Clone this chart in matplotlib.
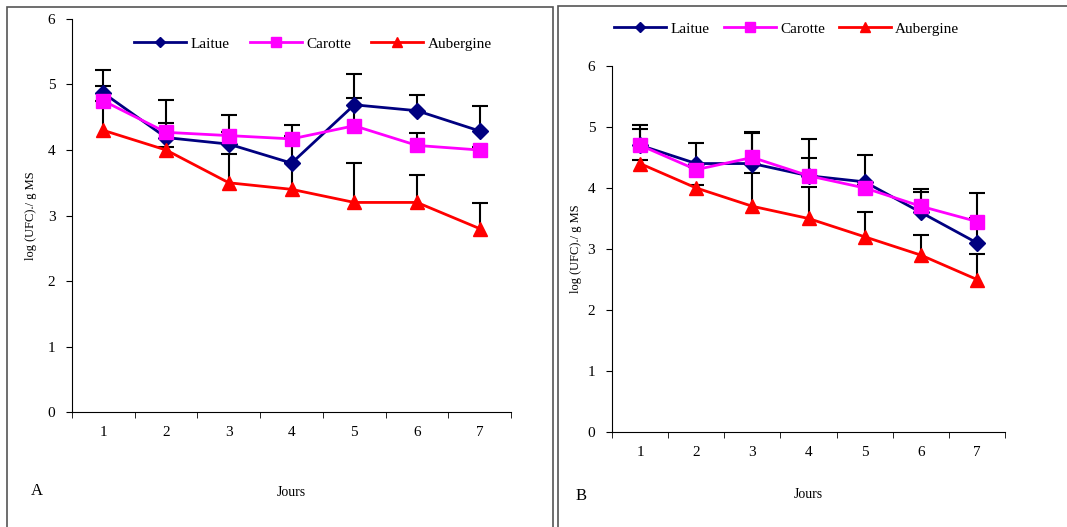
import matplotlib.pyplot as plt
from matplotlib.patches import Rectangle

plt.rcParams['font.family'] = ['Liberation Serif', 'DejaVu Serif']

# Data
jours = [1, 2, 3, 4, 5, 6, 7]
series = ['Laitue', 'Carotte', 'Aubergine']

a_laitue = [4.87, 4.19, 4.09, 3.80, 4.69, 4.60, 4.29]
a_carotte = [4.75, 4.27, 4.22, 4.17, 4.37, 4.07, 4.00]
a_aubergine = [4.30, 4.00, 3.50, 3.40, 3.20, 3.20, 2.80]
a_err_laitue = [0.35, 0.22, 0.45, 0.58, 0.47, 0.24, 0.38]
a_err_carotte = [0.23, 0.50, 0.05, 0.05, 0.43, 0.19, 0.05]
a_err_aubergine = [0.45, 0.05, 0.44, 0.40, 0.60, 0.42, 0.39]

b_laitue = [4.70, 4.40, 4.40, 4.20, 4.10, 3.60, 3.10]
b_carotte = [4.70, 4.30, 4.50, 4.20, 4.00, 3.70, 3.45]
b_aubergine = [4.40, 4.00, 3.70, 3.50, 3.20, 2.90, 2.50]
b_err_laitue = [0.33, 0.33, 0.52, 0.61, 0.44, 0.39, 0.82]
b_err_carotte = [0.27, 0.05, 0.40, 0.29, 0.05, 0.24, 0.05]
b_err_aubergine = [0.05, 0.05, 0.54, 0.52, 0.40, 0.33, 0.42]

colors = ['#000080', '#FF00FF', '#FF0000']
markers = ['D', 's', '^']
msizes = [8, 10, 10]

fig = plt.figure(figsize=(10.67, 5.27), dpi=100)

# panel frames
fig.patches.append(Rectangle((7 / 1067, -0.1), 546 / 1067, 1 - 7 / 527 + 0.1,
                             transform=fig.transFigure, fill=False,
                             edgecolor='#555555', lw=1.2))
fig.patches.append(Rectangle((558 / 1067, -0.1), 520 / 1067, 1 - 6 / 527 + 0.1,
                             transform=fig.transFigure, fill=False,
                             edgecolor='#555555', lw=1.2))


def draw_panel(ax, values, errors, legend_xy, colspace, letter, letter_xy,
               xlabel_y, ypad):
    # upper error bars only (stem + top cap)
    for v, e in zip(values, errors):
        ax.errorbar(jours, v, yerr=[[0] * len(e), e], fmt='none', ecolor='black',
                    elinewidth=1.5, capsize=0, zorder=2)
        tops = [vi + ei for vi, ei in zip(v, e)]
        ax.plot(jours, tops, ls='none', marker='_', markersize=11,
                markeredgewidth=1.5, color='black', zorder=2)
    for name, v, c, m, ms in zip(series, values, colors, markers, msizes):
        ax.plot(jours, v, color=c, marker=m, markersize=ms, lw=2, label=name, zorder=3)
    ax.set_xlim(0.5, 7.5)
    ax.set_ylim(0, 6)
    ax.set_yticks(range(7))
    ax.set_xticks(jours)
    ax.set_xticks([i + 0.5 for i in range(0, 8)], minor=True)
    ax.tick_params(axis='x', which='major', length=0, pad=10, labelsize=11)
    ax.tick_params(axis='x', which='minor', length=4, direction='out')
    ax.tick_params(axis='y', length=4, direction='out', labelsize=11, pad=8)
    for s in ['top', 'right']:
        ax.spines[s].set_visible(False)
    ax.set_ylabel('log (UFC)./ g MS', fontsize=9, labelpad=ypad)
    ax.set_xlabel('Jours', fontsize=10)
    ax.xaxis.set_label_coords(0.5, xlabel_y)
    ax.legend(loc='center', bbox_to_anchor=legend_xy, ncol=3, frameon=False,
              fontsize=11, handlelength=3.4, markerscale=0.7,
              columnspacing=colspace, handletextpad=0.3)
    fig.text(letter_xy[0], letter_xy[1], letter, fontsize=12)


ax1 = fig.add_axes([0.0675, 0.218, 0.4115, 0.746])
draw_panel(ax1, [a_laitue, a_carotte, a_aubergine],
           [a_err_laitue, a_err_carotte, a_err_aubergine],
           (0.549, 1 - 25 / 393), 1.3, 'A', (31 / 1067, 1 - 495 / 527),
           -0.187, 8)

ax2 = fig.add_axes([0.5735, 0.180, 0.3685, 0.695])
draw_panel(ax2, [b_laitue, b_carotte, b_aubergine],
           [b_err_laitue, b_err_carotte, b_err_aubergine],
           (0.445, 1 + 37 / 366), 0.9, 'B', (576 / 1067, 1 - 500 / 527),
           -0.152, 4)

plt.savefig('out.png', dpi=100)
